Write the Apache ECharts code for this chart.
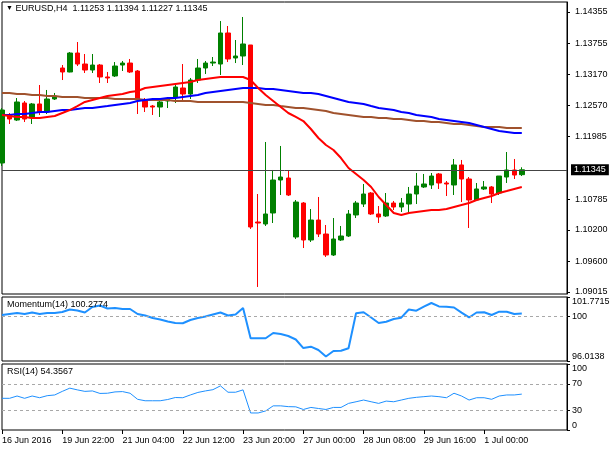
<!DOCTYPE html>
<html><head><meta charset="utf-8">
<script src="https://cdn.jsdelivr.net/npm/echarts@6/dist/echarts.min.js"></script>
<style>html,body{margin:0;padding:0;background:#fff}#c{width:610px;height:450px}</style>
</head><body><div id="c"></div>
<script>
const symbol = 'EURUSD';
const timeframe = 'H4';
const barTimes = ['16 Jun 2016','16 Jun 20:00','17 Jun 00:00','17 Jun 04:00','17 Jun 08:00','17 Jun 12:00','17 Jun 16:00','17 Jun 20:00',
 '19 Jun 22:00','20 Jun 00:00','20 Jun 04:00','20 Jun 08:00','20 Jun 12:00','20 Jun 16:00','20 Jun 20:00',
 '21 Jun 00:00','21 Jun 04:00','21 Jun 08:00','21 Jun 12:00','21 Jun 16:00','21 Jun 20:00',
 '22 Jun 00:00','22 Jun 04:00','22 Jun 08:00','22 Jun 12:00','22 Jun 16:00','22 Jun 20:00',
 '23 Jun 00:00','23 Jun 04:00','23 Jun 08:00','23 Jun 12:00','23 Jun 16:00','23 Jun 20:00',
 '24 Jun 00:00','24 Jun 04:00','24 Jun 08:00','24 Jun 12:00','24 Jun 16:00','24 Jun 20:00',
 '26 Jun 22:00','27 Jun 00:00','27 Jun 04:00','27 Jun 08:00','27 Jun 12:00','27 Jun 16:00','27 Jun 20:00',
 '28 Jun 00:00','28 Jun 04:00','28 Jun 08:00','28 Jun 12:00','28 Jun 16:00','28 Jun 20:00',
 '29 Jun 00:00','29 Jun 04:00','29 Jun 08:00','29 Jun 12:00','29 Jun 16:00','29 Jun 20:00',
 '30 Jun 00:00','30 Jun 04:00','30 Jun 08:00','30 Jun 12:00','30 Jun 16:00','30 Jun 20:00',
 '1 Jul 00:00','1 Jul 04:00','1 Jul 08:00','1 Jul 12:00','1 Jul 16:00','1 Jul 20:00'];

const openPrices = [1.11476,1.12391,1.12295,1.12620,1.12334,1.12601,1.12448,1.12696,1.13287,1.13211,
 1.13573,1.13363,1.13249,1.13344,1.13116,1.13135,1.13344,1.13382,1.13230,1.12658,
 1.12562,1.12543,1.12658,1.12734,1.12906,1.12791,1.13058,1.13287,1.13382,1.13363,
 1.13955,1.13478,1.13516,1.13726,1.10350,1.10312,1.10522,1.11151,1.11189,1.10064,
 1.10712,1.10007,1.10388,1.10121,1.09721,1.10007,1.10083,1.10484,1.10693,1.10903,
 1.10503,1.10465,1.10712,1.10636,1.10693,1.10884,1.11018,1.11056,1.11266,1.11094,
 1.11056,1.11438,1.11170,1.10770,1.10980,1.11018,1.10903,1.11208,1.11342,1.11253];
const highPrices = [1.12524,1.12429,1.12715,1.12658,1.12620,1.12963,1.12868,1.12811,1.13344,1.13592,
 1.13783,1.13554,1.13554,1.13363,1.13211,1.13401,1.13421,1.13459,1.13249,1.12715,
 1.12582,1.12715,1.12734,1.12963,1.13363,1.13097,1.13459,1.13421,1.13497,1.14183,
 1.14088,1.13821,1.14260,1.13726,1.10884,1.11876,1.11342,1.11800,1.11342,1.10770,
 1.10731,1.10598,1.10827,1.10293,1.10426,1.10274,1.10579,1.10751,1.11075,1.10922,
 1.10655,1.10903,1.10751,1.10808,1.11018,1.11285,1.11266,1.11285,1.11285,1.11132,
 1.11552,1.11533,1.11208,1.11094,1.11132,1.11037,1.11227,1.11685,1.11552,1.11394];
const lowPrices = [1.11418,1.12219,1.12276,1.12257,1.12219,1.12391,1.12410,1.12677,1.13058,1.13205,
 1.13325,1.13192,1.13192,1.13001,1.13001,1.13116,1.13230,1.13192,1.12410,1.12448,
 1.12391,1.12353,1.12524,1.12620,1.12677,1.12696,1.13001,1.13173,1.13325,1.13154,
 1.13401,1.13382,1.13344,1.10217,1.09111,1.10274,1.10331,1.10865,1.10846,1.10026,
 1.09854,1.09969,1.10064,1.09683,1.09702,1.09988,1.10064,1.10426,1.10636,1.10484,
 1.10331,1.10446,1.10579,1.10541,1.10503,1.10693,1.10999,1.10980,1.10980,1.10846,
 1.10865,1.10731,1.10236,1.10751,1.10960,1.10712,1.10865,1.11094,1.11170,1.11227];
const closePrices = [1.12486,1.12314,1.12639,1.12314,1.12601,1.12448,1.12696,1.12753,1.13211,1.13573,
 1.13363,1.13249,1.13344,1.13116,1.13097,1.13325,1.13382,1.13211,1.12677,1.12543,
 1.12543,1.12639,1.12696,1.12925,1.12791,1.13058,1.13287,1.13382,1.13401,1.13955,
 1.13459,1.13516,1.13745,1.10255,1.10331,1.10503,1.11151,1.11208,1.10865,1.10731,
 1.10007,1.10388,1.10121,1.09721,1.10026,1.10083,1.10503,1.10712,1.10884,1.10503,
 1.10446,1.10712,1.10636,1.10712,1.10884,1.11037,1.11075,1.11227,1.11094,1.11075,
 1.11438,1.11170,1.10770,1.10980,1.11018,1.10884,1.11227,1.11342,1.11246,1.11345];

const maRed = [1.12391,1.12372,1.12353,1.12353,1.12334,1.12334,1.12353,1.12372,1.12429,1.12486,
 1.12562,1.12639,1.12677,1.12715,1.12753,1.12772,1.12791,1.12830,1.12849,1.12906,
 1.12925,1.12944,1.12963,1.12982,1.13001,1.13020,1.13058,1.13078,1.13097,1.13116,
 1.13116,1.13116,1.13116,1.13058,1.12906,1.12772,1.12658,1.12543,1.12429,1.12353,
 1.12276,1.12124,1.11952,1.11818,1.11723,1.11570,1.11380,1.11266,1.11151,1.11018,
 1.10827,1.10674,1.10522,1.10484,1.10522,1.10541,1.10560,1.10579,1.10579,1.10598,
 1.10636,1.10674,1.10712,1.10770,1.10808,1.10846,1.10903,1.10941,1.10980,1.11018];
const maBlue = [1.12391,1.12391,1.12410,1.12410,1.12429,1.12448,1.12448,1.12467,1.12486,1.12486,
 1.12505,1.12524,1.12524,1.12543,1.12562,1.12582,1.12601,1.12620,1.12658,1.12677,
 1.12696,1.12696,1.12715,1.12715,1.12734,1.12753,1.12772,1.12811,1.12830,1.12849,
 1.12868,1.12887,1.12906,1.12906,1.12906,1.12887,1.12887,1.12868,1.12849,1.12830,
 1.12811,1.12811,1.12791,1.12753,1.12715,1.12677,1.12639,1.12620,1.12601,1.12562,
 1.12524,1.12505,1.12486,1.12448,1.12429,1.12391,1.12372,1.12353,1.12314,1.12295,
 1.12276,1.12257,1.12238,1.12200,1.12162,1.12124,1.12086,1.12067,1.12047,1.12047];
const maBrown = [1.12811,1.12811,1.12791,1.12791,1.12772,1.12772,1.12753,1.12753,1.12734,1.12734,
 1.12734,1.12715,1.12715,1.12715,1.12715,1.12696,1.12696,1.12696,1.12696,1.12677,
 1.12677,1.12677,1.12677,1.12658,1.12658,1.12658,1.12639,1.12639,1.12639,1.12639,
 1.12639,1.12639,1.12639,1.12620,1.12601,1.12582,1.12582,1.12562,1.12543,1.12524,
 1.12524,1.12505,1.12486,1.12467,1.12429,1.12410,1.12391,1.12372,1.12353,1.12353,
 1.12334,1.12334,1.12314,1.12314,1.12295,1.12276,1.12276,1.12257,1.12257,1.12238,
 1.12219,1.12219,1.12200,1.12181,1.12162,1.12162,1.12162,1.12143,1.12143,1.12143];

const momentum14 = [100.15,100.24,100.33,100.24,100.38,100.24,100.33,100.33,100.42,100.65,
 100.56,100.38,100.87,101.01,100.74,100.78,100.69,100.69,100.24,100.11,
 99.88,99.75,99.57,99.43,99.41,99.70,99.88,100.02,100.20,100.38,
 100.11,100.20,100.78,98.06,98.06,98.06,98.53,98.44,98.26,97.95,
 97.18,97.30,97.00,96.42,96.91,96.94,97.16,100.31,100.40,99.93,
 99.43,99.55,99.79,99.91,100.65,100.54,100.90,101.23,100.92,100.90,
 100.83,100.36,99.93,100.38,100.40,100.15,100.45,100.45,100.24,100.2774];
const rsi14 = [48.0,48.0,51.5,48.0,51.5,48.9,52.0,53.1,58.5,63.4,
 60.8,58.5,59.2,55.4,55.7,57.7,58.2,55.7,46.5,44.3,
 44.3,44.3,46.2,49.2,48.9,53.1,56.9,59.2,61.1,66.9,
 57.2,57.2,60.8,25.8,25.8,28.9,36.6,36.6,35.4,35.1,
 31.1,34.2,32.6,31.1,34.2,34.2,40.3,42.8,45.4,42.8,
 40.3,43.8,42.8,45.4,48.0,49.5,50.5,51.5,50.5,48.9,
 55.7,51.5,45.4,48.9,48.9,46.5,51.5,53.1,53.1,54.3567];

const priceTicks = [1.09015,1.09600,1.10200,1.10785,1.11985,1.12570,1.13170,1.13755,1.14355];
const priceRange = [1.08977, 1.14546];
const momentumTicks = [96.0138, 100, 101.7715];
const momentumLevels = [100];
const rsiTicks = [0, 30, 70, 100];
const rsiLevels = [30, 70];
const emptySlots = 6;
const labelEvery = 8;

const FONT = "'Liberation Sans','DejaVu Sans',sans-serif";
const cats = barTimes.concat(Array(emptySlots).fill(''));
const n = barTimes.length;
const last = n - 1;
const candles = openPrices.map((o, i) => [o, closePrices[i], lowPrices[i], highPrices[i]]);
const showAt = (i) => i % labelEvery === 0 && i < n;

const grid = [
  {top: 2, height: 292},
  {top: 297, height: 64},
  {top: 364, height: 66}
].map(g => Object.assign(g, {left: 2, right: 43, show: true, borderColor: '#000', borderWidth: 1,
  backgroundColor: '#fff', outerBoundsMode: 'none', containLabel: false}));

const xAxis = [0, 1, 2].map(i => ({
  type: 'category', gridIndex: i, data: cats, boundaryGap: false, show: i === 2,
  axisLine: {show: false},
  axisTick: {show: true, interval: showAt, length: 4, lineStyle: {color: '#000'}},
  axisLabel: {interval: showAt, align: 'left', margin: 6, fontSize: 9, color: '#000', fontFamily: FONT},
  splitLine: {show: false}
}));

function yAx(gridIndex, min, max, ticks, fmt, edgeAlign, margin) {
  const lab = {customValues: ticks, formatter: fmt, fontSize: 9, color: '#000', margin, fontFamily: FONT};
  if (edgeAlign) { lab.verticalAlignMinLabel = 'bottom'; lab.verticalAlignMaxLabel = 'top'; }
  else { lab.padding = [2, 0, 0, 0]; }
  return {
    type: 'value', gridIndex, position: 'right', min, max,
    axisLine: {show: true, lineStyle: {color: '#000'}},
    axisTick: {show: true, length: 3, customValues: ticks, lineStyle: {color: '#000'}},
    axisLabel: lab,
    splitLine: {show: false}
  };
}

const f5 = v => v.toFixed(5);
const lineS = (data, color, width, xi, yi, extra) => Object.assign({
  type: 'line', data, xAxisIndex: xi, yAxisIndex: yi, showSymbol: false, symbol: 'none',
  lineStyle: {color, width}, itemStyle: {color}, silent: true, animation: false
}, extra || {});
const levelLines = (levels) => ({
  symbol: 'none', silent: true, label: {show: false}, precision: 4,
  lineStyle: {color: '#a8a8a8', width: 1, type: [3, 3]},
  data: levels.map(v => ({yAxis: v}))
});

const txt = {fontSize: 9, fontWeight: 'normal', color: '#000', fontFamily: FONT};
const option = {
  animation: false,
  backgroundColor: '#fff',
  title: [
    {left: 6, top: 4, padding: 0,
     text: `{t|▼} ${symbol},${timeframe}  ${f5(openPrices[last])} ${f5(highPrices[last])} ${f5(lowPrices[last])} ${f5(closePrices[last])}`,
     textStyle: Object.assign({}, txt, {rich: {t: {fontSize: 7, color: '#000'}}})},
    {left: 7, top: 300, padding: 0, text: `Momentum(14) ${momentum14[last].toFixed(4)}`, textStyle: txt},
    {left: 7, top: 367, padding: 0, text: `RSI(14) ${rsi14[last].toFixed(4)}`, textStyle: txt}
  ],
  grid,
  xAxis,
  yAxis: [
    yAx(0, priceRange[0], priceRange[1], priceTicks, f5, false, 8),
    yAx(1, momentumTicks[0], momentumTicks[momentumTicks.length - 1], momentumTicks, v => String(v), true, 5),
    yAx(2, rsiTicks[0], rsiTicks[rsiTicks.length - 1], rsiTicks, v => String(v), true, 5)
  ],
  series: [
    {
      type: 'candlestick', xAxisIndex: 0, yAxisIndex: 0, data: candles, barWidth: 5,
      itemStyle: {color: '#008000', color0: '#ff0000', borderColor: '#008000', borderColor0: '#ff0000', borderWidth: 1},
      silent: true,
      markLine: {
        symbol: 'none', silent: true, precision: 5,
        lineStyle: {color: '#444', width: 1, type: 'solid'},
        label: {position: 'end', distance: 4, formatter: p => f5(p.value), backgroundColor: '#000',
          color: '#fff', padding: [1, 3], fontSize: 9, fontFamily: FONT},
        data: [{yAxis: closePrices[last]}]
      }
    },
    lineS(maBrown, '#a0522d', 2, 0, 0),
    lineS(maBlue, '#0000ff', 2, 0, 0),
    lineS(maRed, '#ff0000', 2, 0, 0),
    lineS(momentum14, '#1e90ff', 2, 1, 1, {markLine: levelLines(momentumLevels)}),
    lineS(rsi14, '#1e90ff', 1, 2, 2, {markLine: levelLines(rsiLevels)})
  ]
};
const chart = echarts.init(document.getElementById('c'));
chart.setOption(option);
</script>
</body></html>
